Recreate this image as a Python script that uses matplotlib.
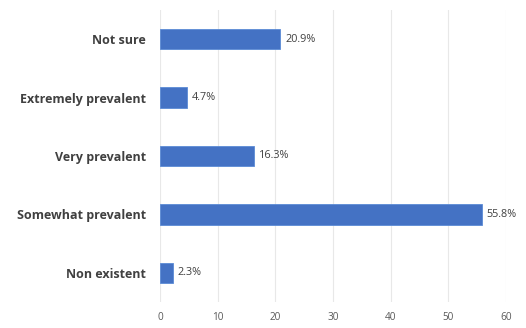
import matplotlib.pyplot as plt

# Survey responses (percent)
categories = ['Non existent', 'Somewhat prevalent', 'Very prevalent',
              'Extremely prevalent', 'Not sure']
values = [2.3, 55.8, 16.3, 4.7, 20.9]
xticks = [0, 10, 20, 30, 40, 50, 60]

plt.rcParams['font.family'] = ['Open Sans', 'DejaVu Sans']

fig = plt.figure(figsize=(5.26, 3.28), dpi=100)
ax = fig.add_axes([0.304, 0.079, 0.658, 0.891])

bars = ax.barh(categories, values, height=0.35, color='#4472C4',
               edgecolor='#5B8BD6', linewidth=0.6, zorder=3)

for bar, v in zip(bars, values):
    ax.text(bar.get_width() + 0.8, bar.get_y() + bar.get_height() / 2,
            f'{v}%', va='center', ha='left', fontsize=7.8, color='#404040')

ax.set_xlim(0, 60)
ax.set_ylim(-0.5, 4.5)
ax.set_xticks(xticks)
ax.grid(axis='x', color='#e8e8e8', linewidth=0.8, zorder=0)

for side in ['top', 'right', 'bottom', 'left']:
    ax.spines[side].set_visible(False)

ax.tick_params(axis='x', length=0, labelsize=7.2, labelcolor='#595959', pad=7)
ax.tick_params(axis='y', length=0, labelsize=9, labelcolor='#404040', pad=10)
for lbl in ax.get_yticklabels():
    lbl.set_fontweight('bold')

fig.savefig('out.png', dpi=100)
